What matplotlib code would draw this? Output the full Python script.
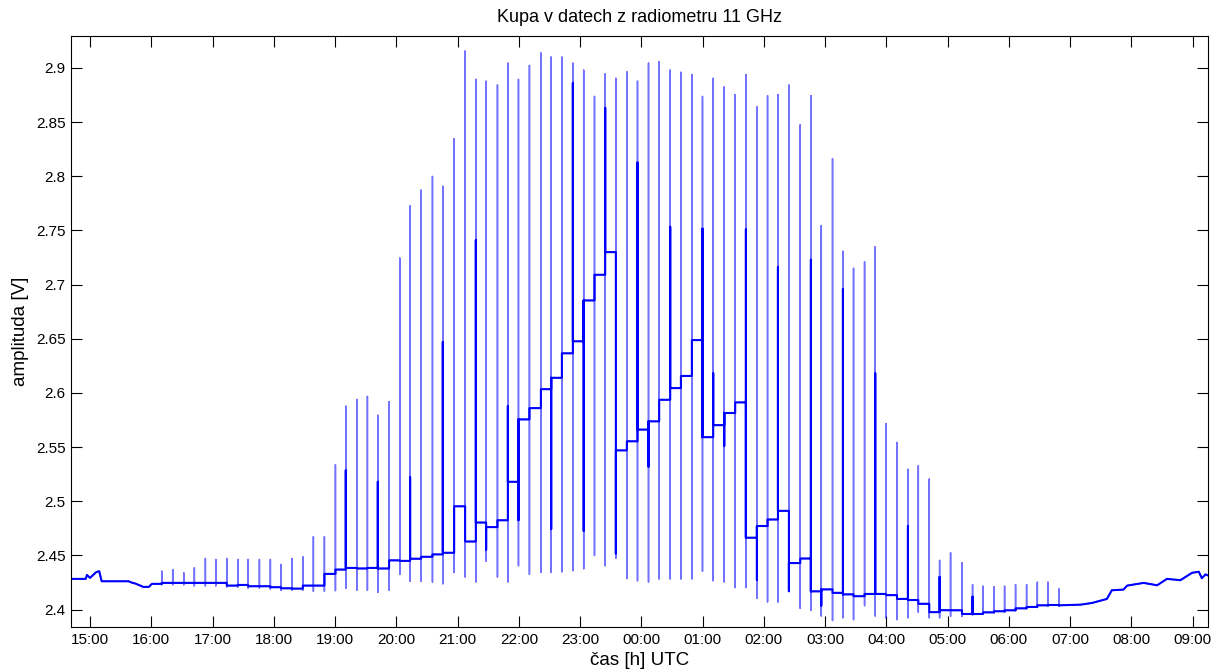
import numpy as np
import matplotlib
matplotlib.use('Agg')
import matplotlib.pyplot as plt

plt.rcParams['font.family'] = ['Liberation Sans', 'DejaVu Sans']

# spike times [h since 00:00 of first day], tops, bottoms, level after spike, dark part end
spike_t = [16.171, 16.350, 16.530, 16.703, 16.883, 17.053, 17.232, 17.412, 17.580, 17.765,
           17.944, 18.119, 18.294, 18.473, 18.646, 18.826, 19.006, 19.175, 19.355, 19.528,
           19.698, 19.882, 20.057, 20.225, 20.405, 20.590, 20.759, 20.944, 21.123, 21.298,
           21.466, 21.651, 21.821, 21.994, 22.173, 22.360, 22.528, 22.703, 22.882, 23.059,
           23.235, 23.410, 23.584, 23.764, 23.937, 24.117, 24.291, 24.471, 24.646, 24.825,
           24.998, 25.173, 25.353, 25.532, 25.707, 25.887, 26.060, 26.230, 26.409, 26.594,
           26.768, 26.937, 27.121, 27.291, 27.464, 27.644, 27.818, 27.993, 28.173, 28.352,
           28.521, 28.700, 28.869, 29.048, 29.234, 29.407, 29.577, 29.757, 29.930, 30.109,
           30.289, 30.464, 30.638, 30.818]
spike_top = [2.4355, 2.437, 2.434, 2.4386, 2.4472, 2.4463, 2.4472, 2.4463, 2.4463, 2.4463,
             2.4463, 2.4417, 2.4472, 2.4488, 2.4673, 2.4673, 2.5337, 2.5878, 2.594, 2.5968,
             2.5794, 2.592, 2.7245, 2.7726, 2.7872, 2.7998, 2.7907, 2.8346, 2.9156, 2.8894,
             2.8877, 2.8842, 2.9044, 2.8894, 2.9023, 2.9138, 2.91, 2.91, 2.9044, 2.898,
             2.8737, 2.8946, 2.8904, 2.8963, 2.8877, 2.9044, 2.9058, 2.898, 2.896, 2.8939,
             2.8737, 2.8904, 2.8824, 2.8754, 2.8939, 2.864, 2.8744, 2.8754, 2.8842, 2.8476,
             2.8744, 2.7545, 2.8162, 2.7308, 2.715, 2.721, 2.735, 2.5717, 2.5543, 2.5295,
             2.5327, 2.5205, 2.4455, 2.4525, 2.4432, 2.4231, 2.4216, 2.421, 2.4216, 2.4231,
             2.4231, 2.4253, 2.4253, 2.4191]
spike_bot = [2.423, 2.423, 2.423, 2.422, 2.422, 2.422, 2.421, 2.421, 2.420, 2.420,
             2.419, 2.418, 2.418, 2.418, 2.417, 2.417, 2.4176, 2.4197, 2.418, 2.418,
             2.416, 2.418, 2.4326, 2.4263, 2.4263, 2.4255, 2.4239, 2.4343, 2.4302, 2.4256,
             2.4448, 2.4302, 2.4256, 2.4406, 2.4326, 2.4344, 2.4344, 2.435, 2.436, 2.4378,
             2.45, 2.4406, 2.4476, 2.4288, 2.4267, 2.4256, 2.4284, 2.4284, 2.4284, 2.4284,
             2.4355, 2.4267, 2.4256, 2.4204, 2.4204, 2.4106, 2.4071, 2.4071, 2.4169, 2.4012,
             2.3995, 2.3942, 2.390, 2.3925, 2.3908, 2.4037, 2.3942, 2.3925, 2.3908, 2.3925,
             2.3977, 2.3925, 2.3925, 2.3938, 2.3938, 2.395, 2.396, 2.397, 2.3975, 2.399,
             2.401, 2.402, 2.403, 2.403]
level_after = [2.4247, 2.4247, 2.4247, 2.4247, 2.4247, 2.4247, 2.4222, 2.4228, 2.4216, 2.4216,
               2.4207, 2.4197, 2.4194, 2.4222, 2.4222, 2.4330, 2.437, 2.4385, 2.438, 2.4385,
               2.438, 2.4455, 2.445, 2.447, 2.4488, 2.451, 2.4525, 2.4954, 2.4629, 2.4804,
               2.4762, 2.4825, 2.518, 2.5756, 2.586, 2.6035, 2.614, 2.6366, 2.6477, 2.6854,
               2.7091, 2.73, 2.547, 2.5554, 2.5662, 2.5738, 2.5937, 2.6045, 2.6157, 2.6488,
               2.5592, 2.5703, 2.5815, 2.5913, 2.4664, 2.4772, 2.4832, 2.4912, 2.443, 2.4472,
               2.4169, 2.4187, 2.4155, 2.4141, 2.4124, 2.4145, 2.4145, 2.4134, 2.4099, 2.4089,
               2.4054, 2.3977, 2.3995, 2.3994, 2.396, 2.396, 2.3975, 2.3985, 2.3994, 2.4012,
               2.4025, 2.404, 2.4043, 2.404]
nan = np.nan
spike_dark = [nan, nan, nan, nan, nan, nan, nan, nan, nan, nan,
              nan, nan, nan, nan, nan, nan, nan, 2.5285, nan, nan,
              2.518, nan, nan, 2.5222, nan, nan, 2.647, 2.466, nan, 2.7412,
              2.4553, nan, 2.5878, 2.4825, nan, nan, 2.4744, nan, 2.886, 2.4727,
              nan, 2.8632, 2.4518, nan, 2.8127, 2.532, nan, 2.7534, nan, 2.6262,
              2.7517, 2.6181, 2.5512, nan, 2.751, 2.4274, nan, 2.716, 2.417, nan,
              2.723, 2.4037, nan, 2.6959, nan, nan, 2.6181, nan, nan, 2.4772,
              nan, nan, 2.4302, nan, nan, 2.412, nan, nan, nan, nan,
              nan, nan, nan, nan]

# quiet baseline before the first and after the last spike
start_t = [14.69, 14.93, 14.95, 15.00, 15.10, 15.15, 15.19, 15.63, 15.68, 15.74, 15.87, 15.96, 16.01, 16.17]
start_v = [2.4284, 2.4284, 2.432, 2.4293, 2.4346, 2.4355, 2.4262, 2.4262, 2.4250, 2.4241, 2.4210, 2.4210, 2.4238, 2.4238]
end_t = [31.17, 31.36, 31.60, 31.68, 31.87, 31.93, 32.20, 32.42, 32.58, 32.80, 32.99, 33.10, 33.15, 33.21, 33.28]
end_v = [2.4046, 2.4062, 2.4099, 2.4179, 2.4185, 2.4222, 2.4247, 2.4225, 2.4284, 2.4272, 2.434, 2.435, 2.429, 2.4325, 2.431]

hour_ticks = list(range(15, 34))
hour_labels = ['%02d:00' % (h % 24) for h in hour_ticks]
y_ticks = [2.4, 2.45, 2.5, 2.55, 2.6, 2.65, 2.7, 2.75, 2.8, 2.85, 2.9]
y_labels = ['2.4', '2.45', '2.5', '2.55', '2.6', '2.65', '2.7', '2.75', '2.8', '2.85', '2.9']

# full trace (thin): level -> spike top -> bottom -> new level
tt = list(start_t)
vv = list(start_v)
# settled part (thick): levels, steps between them and the dense part of each spike
bt = list(start_t)
bv = list(start_v)
for t, top, bot, a, d in zip(spike_t, spike_top, spike_bot, level_after, spike_dark):
    tt += [t, t, t, t]
    vv += [vv[-1], top, bot, a]
    bt += [t, t]
    bv += [bv[-1], a]
    if not np.isnan(d):
        bt += [t, t]
        bv += [d, a]
tt += end_t
vv += end_v
bt += end_t
bv += end_v

fig = plt.figure(figsize=(12.29, 6.70), dpi=100)
ax = fig.add_axes([0.0578, 0.0642, 0.9251, 0.8821])
ax.plot(tt, vv, color='#0000ff', lw=1.1, alpha=0.55)
ax.plot(bt, bv, color='#0000ff', lw=1.5)

ax.set_xlim(14.69, 33.25)
ax.set_ylim(2.384, 2.9295)
ax.set_xticks(hour_ticks)
ax.set_xticklabels(hour_labels)
ax.set_yticks(y_ticks)
ax.set_yticklabels(y_labels)
ax.tick_params(direction='in', length=8, width=0.8, top=True, right=True, labelsize=11, pad=4)
for s in ax.spines.values():
    s.set_linewidth(0.8)
ax.set_title('Kupa v datech z radiometru 11 GHz', fontsize=13, pad=10)
ax.set_xlabel('čas [h] UTC', fontsize=13.5, labelpad=4)
ax.set_ylabel('amplituda [V]', fontsize=13.5, labelpad=5)

fig.savefig('out.png', dpi=100)
